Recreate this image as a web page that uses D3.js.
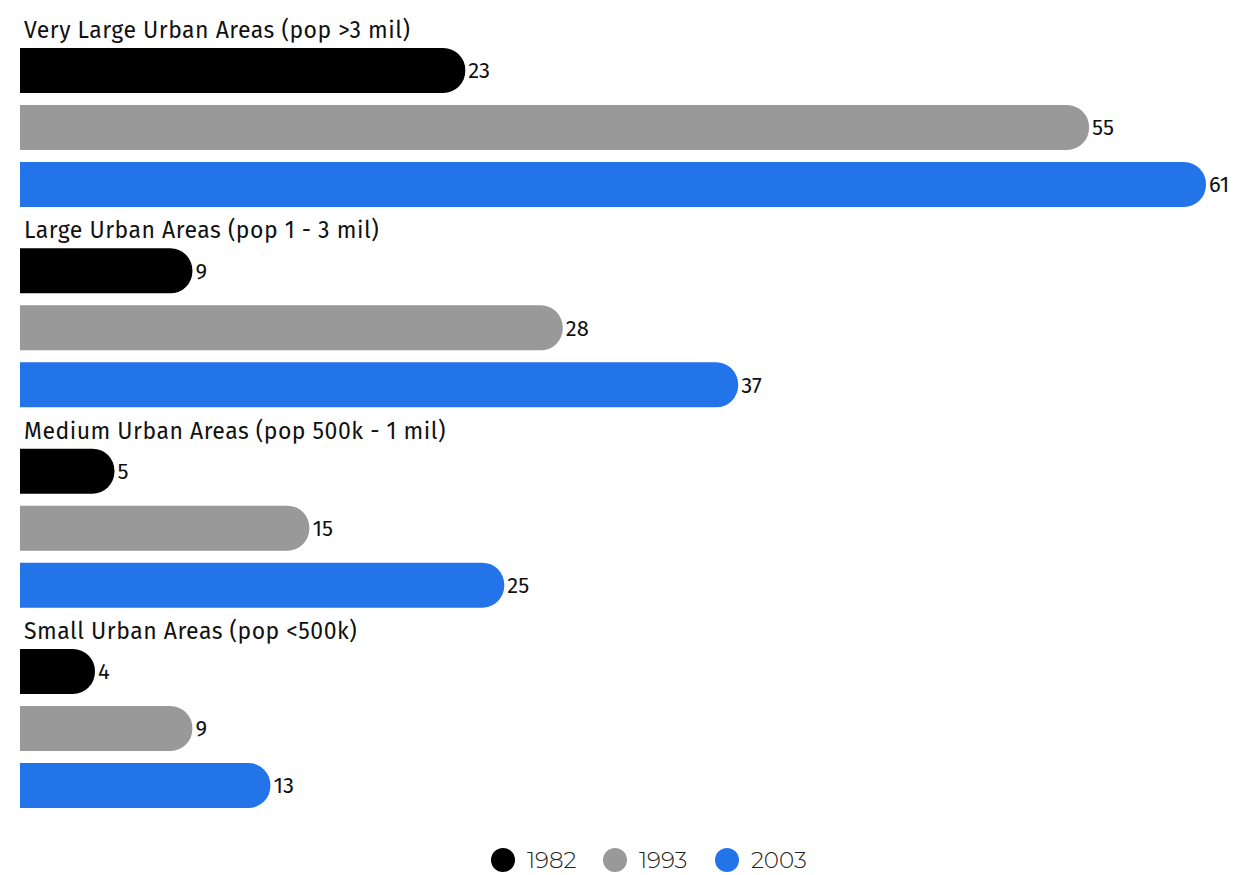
<!DOCTYPE html>
<html>
<head>
<meta charset="utf-8">
<script src="https://cdn.jsdelivr.net/npm/d3@7"></script>
<style>
  html, body { margin: 0; padding: 0; background: #fff; }
  svg { display: block; }
</style>
</head>
<body>
<svg id="chart" width="1234" height="875"></svg>
<script>
const groups = [
  "Very Large Urban Areas (pop >3 mil)",
  "Large Urban Areas (pop 1 - 3 mil)",
  "Medium Urban Areas (pop 500k - 1 mil)",
  "Small Urban Areas (pop <500k)"
];
const years = ["1982", "1993", "2003"];
const values1982 = [23, 9, 5, 4];
const values1993 = [55, 28, 15, 9];
const values2003 = [61, 37, 25, 13];
const colors = ["#000000", "#999999", "#2373e9"];

const series = [values1982, values1993, values2003];
const rows = [];
groups.forEach((g, gi) => {
  years.forEach((y, yi) => rows.push({ group: g, gi, year: y, yi, value: series[yi][gi] }));
});

const svg = d3.select("#chart");
const barH = 45;
const barLeft = 20;
const x = d3.scaleLinear().domain([0, 61]).range([17, 1206]);
const gy = d3.scaleLinear().domain([0, 3]).range([48, 649]);
const color = d3.scaleOrdinal().domain(years).range(colors);
const barY = d => gy(d.gi) + d.yi * 57;

// bar with a square left edge and a rounded right end
function barPath(x0, x1, y, h, r) {
  r = Math.min(r, (x1 - x0), h / 2);
  return `M${x0},${y}H${x1 - r}A${r},${r} 0 0 1 ${x1},${y + r}V${y + h - r}A${r},${r} 0 0 1 ${x1 - r},${y + h}H${x0}Z`;
}

svg.append("g").selectAll("text").data(groups).join("text")
  .attr("x", 24)
  .attr("y", (d, i) => gy(i) - 10)
  .attr("font-family", "'Fira Sans', 'Noto Sans', sans-serif")
  .attr("font-size", 23)
  .attr("letter-spacing", "0.5px")
  .attr("fill", "#111")
  .text(d => d);

svg.append("g").selectAll("path").data(rows).join("path")
  .attr("d", d => barPath(barLeft, x(d.value), barY(d), barH, 22))
  .attr("fill", d => color(d.year));

svg.append("g").selectAll("text").data(rows).join("text")
  .attr("x", d => x(d.value) + 3)
  .attr("y", d => barY(d) + barH / 2)
  .attr("dy", "0.36em")
  .attr("font-family", "'Fira Sans', 'Noto Sans', sans-serif")
  .attr("font-size", 22)
  .attr("fill", "#111")
  .text(d => d.value);

// legend
const legend = svg.append("g").selectAll("g").data(years).join("g")
  .attr("transform", (d, i) => `translate(${503 + i * 112},860)`);
legend.append("circle").attr("r", 12).attr("fill", d => color(d));
legend.append("text")
  .attr("x", 24).attr("dy", "0.36em")
  .attr("font-family", "'Montserrat', 'Lato', sans-serif")
  .attr("font-weight", 300)
  .attr("font-size", 23)
  .attr("fill", "#222")
  .text(d => d);
</script>
</body>
</html>
